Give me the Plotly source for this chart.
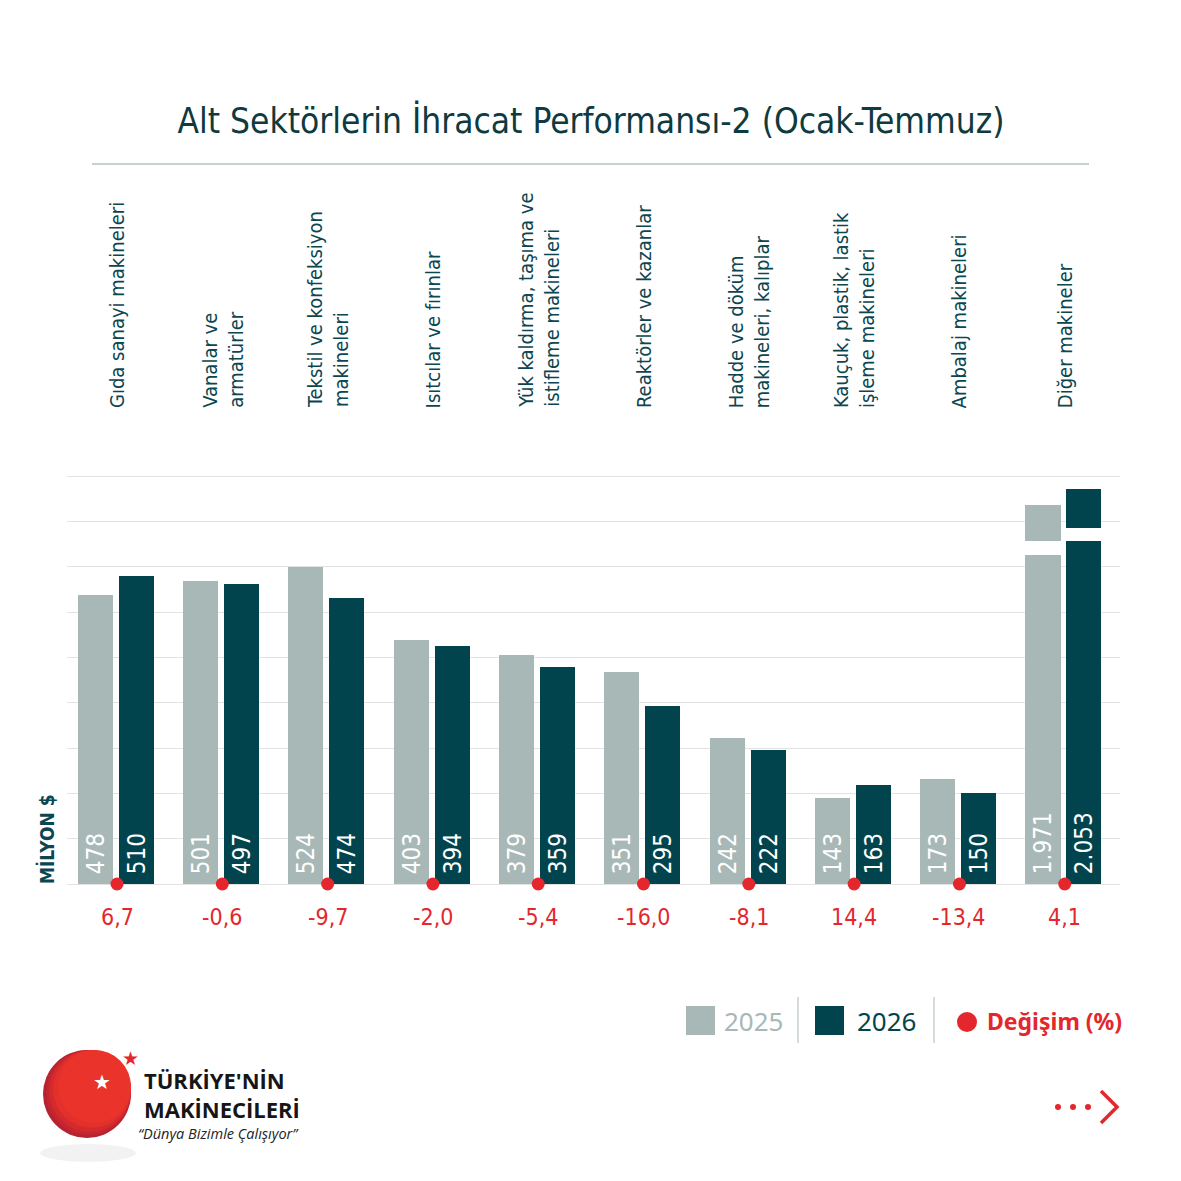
import plotly.graph_objects as go

# --- data -------------------------------------------------------------------
categories = [
    "Gıda sanayi makineleri",
    "Vanalar ve<br>armatürler",
    "Tekstil ve konfeksiyon<br>makineleri",
    "Isıtcılar ve fırınlar",
    "Yük kaldırma, taşıma ve<br>istifleme makineleri",
    "Reaktörler ve kazanlar",
    "Hadde ve döküm<br>makineleri, kalıplar",
    "Kauçuk, plastik, lastik<br>işleme makineleri",
    "Ambalaj makineleri",
    "Diğer makineler",
]
exports_2025 = [478, 501, 524, 403, 379, 351, 242, 143, 173, 1971]
exports_2026 = [510, 497, 474, 394, 359, 295, 222, 163, 150, 2053]
change_pct = [6.7, -0.6, -9.7, -2.0, -5.4, -16.0, -8.1, 14.4, -13.4, 4.1]
years = ["2025", "2026"]

# --- style ------------------------------------------------------------------
GRAY = "#a8b8b7"
DARK = "#02444d"
RED = "#e4272c"
TEAL = "#0b4651"
GRID = "#e3e3e3"
NARROW = "Liberation Sans Narrow, DejaVu Sans Condensed, sans-serif"
SANS = "Noto Sans, Open Sans, sans-serif"

W = H = 1181
L, R, T, B = 67, 61, 473, 297
PW, PH = W - L - R, H - T - B
Y_MAX = 680          # a little headroom so the 675 gridline is drawn
XR = [-0.475, 9.525]
BAR_W = 0.333
OFF_25, OFF_26 = -0.373, 0.016
PAD = "\u00a0"


def px_x(p):
    return (p - L) / PW


def px_y(p):
    return (H - B - p) / PH


# broken axis for the oversize category: (lower piece top, upper piece bottom)
BREAK_25 = (px_y(555), px_y(541))
BREAK_26 = (px_y(541), px_y(528))
UPPER_TOP = 2135
UPPER_PX_PER_UNIT = 0.1951


def tr_int(v):
    return f"{v:,}".replace(",", ".")


def tr_pct(v):
    return f"{v:.1f}".replace(".", ",")


big = [i for i, (a, b) in enumerate(zip(exports_2025, exports_2026)) if max(a, b) > Y_MAX]
small = [i for i in range(len(categories)) if i not in big]


def bars(idx, values, color, offset, xa, ya, with_text=True):
    ys = [values[i] for i in idx]
    return go.Bar(
        x=idx, y=ys, width=BAR_W, offset=offset,
        marker=dict(color=color, line=dict(width=0)),
        text=[PAD + tr_int(v) for v in ys] if with_text else None,
        textposition="inside" if with_text else "none",
        insidetextanchor="start", textangle=-90, constraintext="none",
        textfont=dict(family=NARROW, size=24, color="white"),
        xaxis=xa, yaxis=ya, showlegend=False, hoverinfo="skip",
    )


fig = go.Figure()
fig.add_trace(bars(small, exports_2025, GRAY, OFF_25, "x", "y"))
fig.add_trace(bars(small, exports_2026, DARK, OFF_26, "x", "y"))
# oversize category drawn on a broken axis
fig.add_trace(bars(big, exports_2025, GRAY, OFF_25, "x2", "y2"))
fig.add_trace(bars(big, exports_2025, GRAY, OFF_25, "x3", "y3", with_text=False))
fig.add_trace(bars(big, exports_2026, DARK, OFF_26, "x4", "y4"))
fig.add_trace(bars(big, exports_2026, DARK, OFF_26, "x5", "y5", with_text=False))

# change markers at the baseline
fig.add_trace(go.Scatter(
    x=list(range(len(categories))), y=[0] * len(categories), mode="markers",
    marker=dict(size=13, color=RED), cliponaxis=False,
    xaxis="x6", yaxis="y6", showlegend=False, hoverinfo="skip",
))


def upper_range(bottom):
    return [UPPER_TOP - (1 - bottom) * PH / UPPER_PX_PER_UNIT, UPPER_TOP]


hidden_x = dict(range=XR, domain=[0, 1], visible=False, fixedrange=True)
layout_axes = dict(
    xaxis=dict(hidden_x),
    yaxis=dict(domain=[0, 1], range=[0, Y_MAX], tick0=0, dtick=75, showgrid=True, gridcolor=GRID,
               gridwidth=1, zeroline=True, zerolinecolor=GRID, zerolinewidth=1,
               showticklabels=False, ticks=""),
    xaxis2=dict(hidden_x, anchor="y2"),
    yaxis2=dict(domain=[0, BREAK_25[0]], range=[0, Y_MAX * BREAK_25[0]], visible=False, anchor="x2"),
    xaxis3=dict(hidden_x, anchor="y3"),
    yaxis3=dict(domain=[BREAK_25[1], 1], range=upper_range(BREAK_25[1]), visible=False, anchor="x3"),
    xaxis4=dict(hidden_x, anchor="y4"),
    yaxis4=dict(domain=[0, BREAK_26[0]], range=[0, Y_MAX * BREAK_26[0]], visible=False, anchor="x4"),
    xaxis5=dict(hidden_x, anchor="y5"),
    yaxis5=dict(domain=[BREAK_26[1], 1], range=upper_range(BREAK_26[1]), visible=False, anchor="x5"),
    xaxis6=dict(hidden_x, anchor="y6"),
    yaxis6=dict(domain=[0, 1], range=[0, Y_MAX], visible=False, anchor="x6"),
)


def note(x, y, text, size, color, family=SANS, xanchor="left", yanchor="middle", align="left"):
    return dict(x=px_x(x), y=px_y(y), xref="paper", yref="paper", text=text,
                xanchor=xanchor, yanchor=yanchor, align=align, showarrow=False,
                font=dict(family=family, size=size, color=color))


annotations = []
# category labels, rotated
for i, name in enumerate(categories):
    annotations.append(dict(
        x=i, xref="x", y=px_y(410), yref="paper", text=name, textangle=-90,
        xanchor="center", yanchor="bottom", align="left", showarrow=False,
        font=dict(family=NARROW, size=20, color=TEAL),
    ))
# change values under the dots
for i, p in enumerate(change_pct):
    annotations.append(dict(
        x=i, xref="x", y=0, yref="y", yshift=-33, text=tr_pct(p), showarrow=False,
        xanchor="center", yanchor="middle",
        font=dict(family=NARROW, size=23, color=RED),
    ))
annotations.append(dict(
    x=px_x(46), xref="paper", y=px_y(886), yref="paper", text="<b>MİLYON $</b>", textangle=-90,
    xanchor="center", yanchor="bottom", showarrow=False,
    font=dict(family=NARROW, size=19, color=TEAL),
))

# legend
annotations += [
    note(722, 1021, years[0], 26, GRAY),
    note(855, 1021, years[1], 26, DARK),
    note(985, 1021, "<b>Değişim (%)</b>", 23, RED),
]

# logo
annotations += [
    note(102, 1082, "★", 20, "white", family="DejaVu Sans", xanchor="center"),
    note(130, 1058, "★", 19, RED, family="DejaVu Sans", xanchor="center"),
    note(142, 1094, "<b>TÜRKİYE'NİN<br>MAKİNECİLERİ</b>", 22, "#161616", family="Open Sans"),
    note(136, 1133, "<i>“Dünya Bizimle Çalışıyor”</i>", 14.5, "#222222", family="Open Sans"),
]

shapes = [
    # rule under the title
    dict(type="line", xref="paper", yref="paper", x0=px_x(92), x1=px_x(1089),
         y0=px_y(164), y1=px_y(164), line=dict(color="#8ba6a7", width=1.2)),
    # legend keys and separators
    dict(type="rect", xref="paper", yref="paper", x0=px_x(686), x1=px_x(715),
         y0=px_y(1035), y1=px_y(1006), fillcolor=GRAY, line=dict(width=0)),
    dict(type="line", xref="paper", yref="paper", x0=px_x(798), x1=px_x(798),
         y0=px_y(1043), y1=px_y(997), line=dict(color="#c6d1d1", width=1.5)),
    dict(type="rect", xref="paper", yref="paper", x0=px_x(815), x1=px_x(844),
         y0=px_y(1035), y1=px_y(1006), fillcolor=DARK, line=dict(width=0)),
    dict(type="line", xref="paper", yref="paper", x0=px_x(934), x1=px_x(934),
         y0=px_y(1043), y1=px_y(997), line=dict(color="#c6d1d1", width=1.5)),
    dict(type="circle", xref="paper", yref="paper", x0=px_x(957), x1=px_x(977),
         y0=px_y(1032), y1=px_y(1012), fillcolor=RED, line=dict(width=0)),
    # logo shadow
    dict(type="circle", xref="paper", yref="paper", x0=px_x(40), x1=px_x(136),
         y0=px_y(1162), y1=px_y(1144), fillcolor="rgba(0,0,0,0.05)", line=dict(width=0)),
]
# logo disc: stacked circles fake the dark lower-left to bright upper-right shading
for shift, color in [(0, "#b52231"), (3, "#c6252f"), (6, "#d42a2d"), (10, "#e2302b"), (15, "#ea332a")]:
    shapes.append(dict(type="circle", xref="paper", yref="paper",
                       x0=px_x(43 + shift), x1=px_x(131), y0=px_y(1138 - shift), y1=px_y(1050),
                       fillcolor=color, line=dict(width=0)))
# "more" arrow
for cx in (1058, 1073, 1088):
    shapes.append(dict(type="circle", xref="paper", yref="paper", x0=px_x(cx - 3), x1=px_x(cx + 3),
                       y0=px_y(1110), y1=px_y(1104), fillcolor=RED, line=dict(width=0)))
shapes.append(dict(
    type="path", xref="paper", yref="paper",
    path=f"M {px_x(1101)} {px_y(1091)} L {px_x(1117)} {px_y(1107)} L {px_x(1101)} {px_y(1123)}",
    line=dict(color=RED, width=3.5),
))

fig.update_layout(
    width=W, height=H,
    margin=dict(l=L, r=R, t=T, b=B),
    paper_bgcolor="white", plot_bgcolor="rgba(0,0,0,0)",
    bargap=0, showlegend=False,
    title=dict(text="Alt Sektörlerin İhracat Performansı-2 (Ocak-Temmuz)",
               x=px_x(591), xref="paper", xanchor="center",
               y=1 - 121 / H, yref="container", yanchor="middle",
               font=dict(family=NARROW, size=35, color="#0e3a40")),
    annotations=annotations, shapes=shapes,
    **layout_axes,
)

fig.write_html("out.html", config={"displayModeBar": False},
               post_script="document.body.style.margin='0';")
